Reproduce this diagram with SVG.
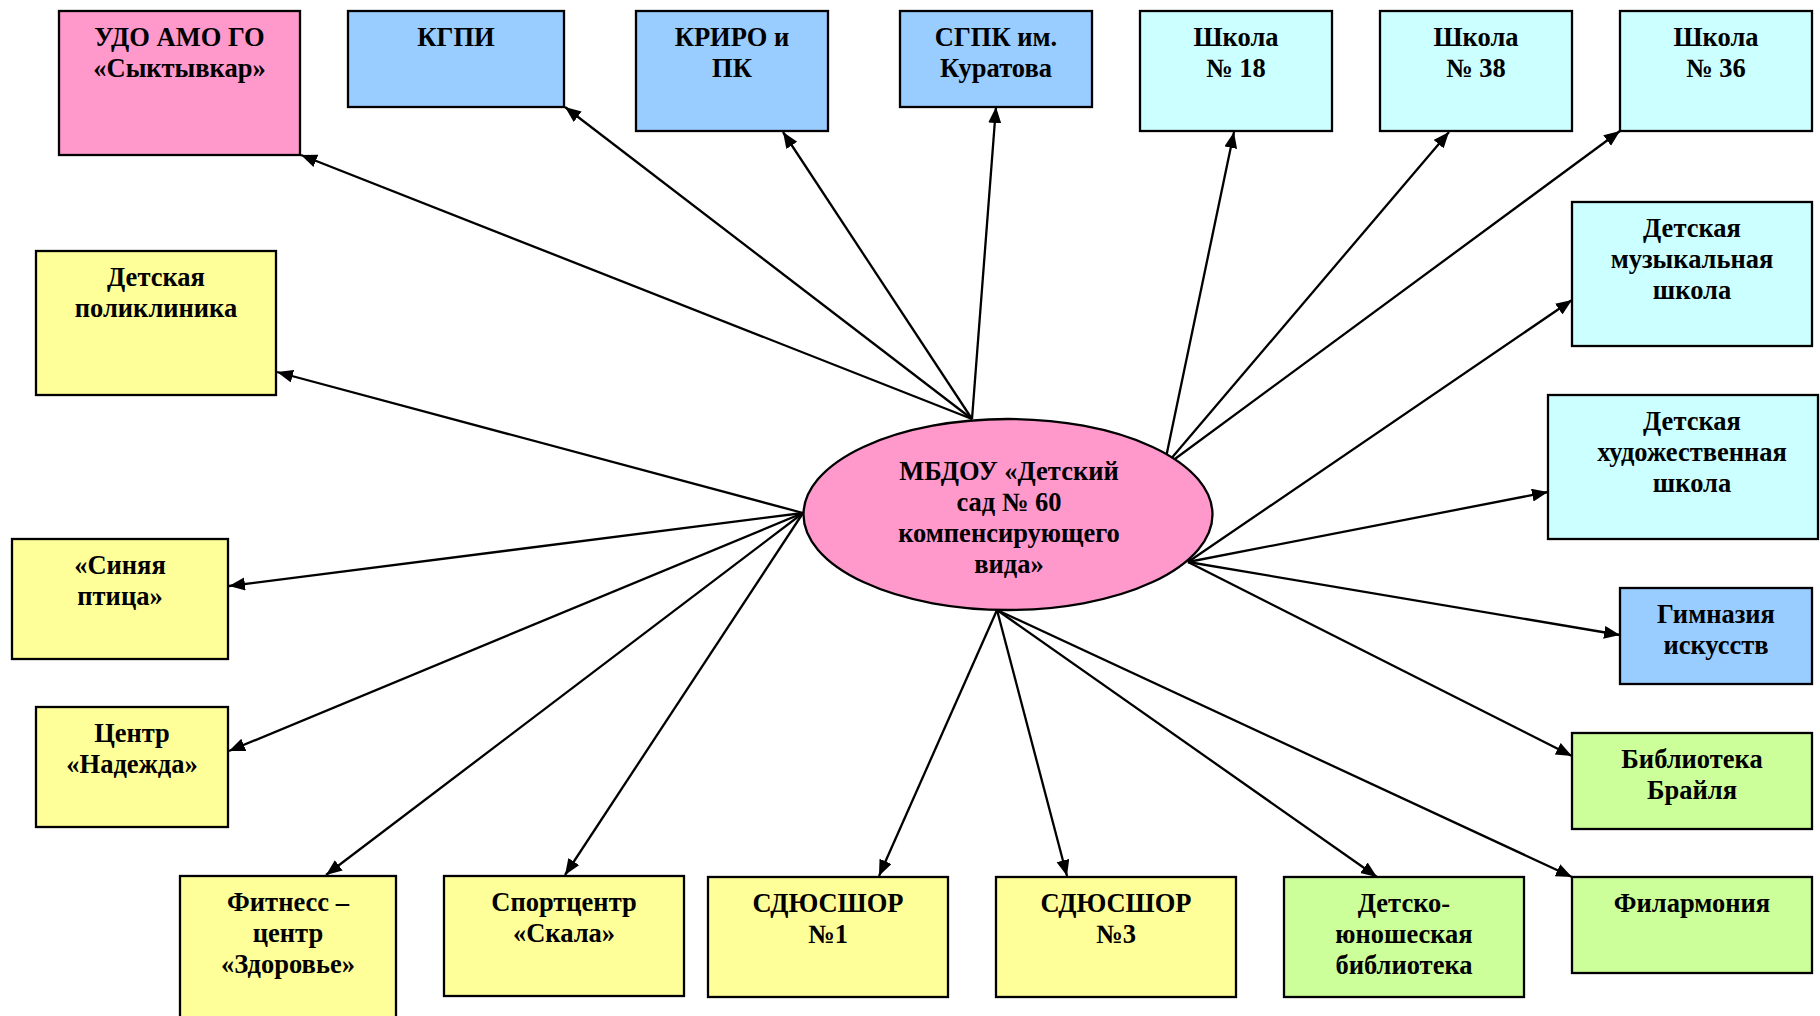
<svg xmlns="http://www.w3.org/2000/svg" width="1820" height="1016" viewBox="0 0 1820 1016">
<defs>
<style>
.box{stroke:#000;stroke-width:2.3}
.pink{fill:#FF99CC}.blue{fill:#99CCFF}.cyan{fill:#CCFFFF}.yellow{fill:#FFFF99}.green{fill:#CCFF99}
text{font-family:"Liberation Serif","Times New Roman",serif;font-weight:bold;font-size:26.5px;fill:#000;text-anchor:middle}
.conn line{stroke:#000;stroke-width:2.3;marker-end:url(#arr)}
</style>
<marker id="arr" markerUnits="userSpaceOnUse" markerWidth="18" markerHeight="14" refX="16" refY="6.5" orient="auto">
<path d="M0,0 L16,6.5 L0,13 z" fill="#000"/>
</marker>
</defs>
<rect width="1820" height="1016" fill="#fff"/>

<g id="connectors" class="conn">
<line x1="972" y1="419" x2="301" y2="155"/>
<line x1="972" y1="419" x2="565" y2="107"/>
<line x1="972" y1="419" x2="783" y2="132"/>
<line x1="972" y1="419" x2="996" y2="107"/>
<line x1="1164" y1="467" x2="1234" y2="132"/>
<line x1="1164" y1="467" x2="1449" y2="132"/>
<line x1="1164" y1="467" x2="1620" y2="131"/>
<line x1="1188" y1="562" x2="1572" y2="300"/>
<line x1="1188" y1="562" x2="1548" y2="492"/>
<line x1="1188" y1="562" x2="1620" y2="635"/>
<line x1="1188" y1="562" x2="1572" y2="756"/>
<line x1="997" y1="610" x2="879" y2="876"/>
<line x1="997" y1="610" x2="1067" y2="876"/>
<line x1="997" y1="610" x2="1377" y2="877"/>
<line x1="997" y1="610" x2="1572" y2="877"/>
<line x1="803" y1="513" x2="277" y2="372"/>
<line x1="803" y1="513" x2="229" y2="586"/>
<line x1="803" y1="513" x2="229" y2="751"/>
<line x1="803" y1="513" x2="326" y2="875"/>
<line x1="803" y1="513" x2="565" y2="875"/>
</g>

<g id="center">
<ellipse cx="1008" cy="514.5" rx="204.5" ry="95.5" class="box pink"/>
<text x="1009" y="480">МБДОУ «Детский</text>
<text x="1009" y="511">сад № 60</text>
<text x="1009" y="542">компенсирующего</text>
<text x="1009" y="573">вида»</text>
</g>

<g id="udo"><rect x="59" y="11" width="241" height="144" class="box pink"/>
<text x="179.5" y="46">УДО АМО ГО</text><text x="179.5" y="77">«Сыктывкар»</text></g>
<g id="kgpi"><rect x="348" y="11" width="216" height="96" class="box blue"/>
<text x="456" y="46">КГПИ</text></g>
<g id="kriro"><rect x="636" y="11" width="192" height="120" class="box blue"/>
<text x="732" y="46">КРИРО и</text><text x="732" y="77">ПК</text></g>
<g id="sgpk"><rect x="900" y="11" width="192" height="96" class="box blue"/>
<text x="996" y="46">СГПК им.</text><text x="996" y="77">Куратова</text></g>
<g id="school18"><rect x="1140" y="11" width="192" height="120" class="box cyan"/>
<text x="1236" y="46">Школа</text><text x="1236" y="77">№ 18</text></g>
<g id="school38"><rect x="1380" y="11" width="192" height="120" class="box cyan"/>
<text x="1476" y="46">Школа</text><text x="1476" y="77">№ 38</text></g>
<g id="school36"><rect x="1620" y="11" width="192" height="120" class="box cyan"/>
<text x="1716" y="46">Школа</text><text x="1716" y="77">№ 36</text></g>
<g id="music"><rect x="1572" y="202" width="240" height="144" class="box cyan"/>
<text x="1692" y="237">Детская</text><text x="1692" y="268">музыкальная</text><text x="1692" y="299">школа</text></g>
<g id="art"><rect x="1548" y="395" width="270" height="144" class="box cyan"/>
<text x="1692" y="430">Детская</text><text x="1692" y="461">художественная</text><text x="1692" y="492">школа</text></g>
<g id="gymnasium"><rect x="1620" y="588" width="192" height="96" class="box blue"/>
<text x="1716" y="623">Гимназия</text><text x="1716" y="654">искусств</text></g>
<g id="braille"><rect x="1572" y="733" width="240" height="96" class="box green"/>
<text x="1692" y="768">Библиотека</text><text x="1692" y="799">Брайля</text></g>
<g id="philharmonic"><rect x="1572" y="877" width="240" height="96" class="box green"/>
<text x="1692" y="912">Филармония</text></g>
<g id="youthlib"><rect x="1284" y="877" width="240" height="120" class="box green"/>
<text x="1404" y="912">Детско-</text><text x="1404" y="943">юношеская</text><text x="1404" y="974">библиотека</text></g>
<g id="sdyushor3"><rect x="996" y="877" width="240" height="120" class="box yellow"/>
<text x="1116" y="912">СДЮСШОР</text><text x="1116" y="943">№3</text></g>
<g id="sdyushor1"><rect x="708" y="877" width="240" height="120" class="box yellow"/>
<text x="828" y="912">СДЮСШОР</text><text x="828" y="943">№1</text></g>
<g id="skala"><rect x="444" y="876" width="240" height="120" class="box yellow"/>
<text x="564" y="911">Спортцентр</text><text x="564" y="942">«Скала»</text></g>
<g id="fitness"><rect x="180" y="876" width="216" height="160" class="box yellow"/>
<text x="288" y="911">Фитнесс –</text><text x="288" y="942">центр</text><text x="288" y="973">«Здоровье»</text></g>
<g id="nadezhda"><rect x="36" y="707" width="192" height="120" class="box yellow"/>
<text x="132" y="742">Центр</text><text x="132" y="773">«Надежда»</text></g>
<g id="bluebird"><rect x="12" y="539" width="216" height="120" class="box yellow"/>
<text x="120" y="574">«Синяя</text><text x="120" y="605">птица»</text></g>
<g id="clinic"><rect x="36" y="251" width="240" height="144" class="box yellow"/>
<text x="156" y="286">Детская</text><text x="156" y="317">поликлиника</text></g>
</svg>
